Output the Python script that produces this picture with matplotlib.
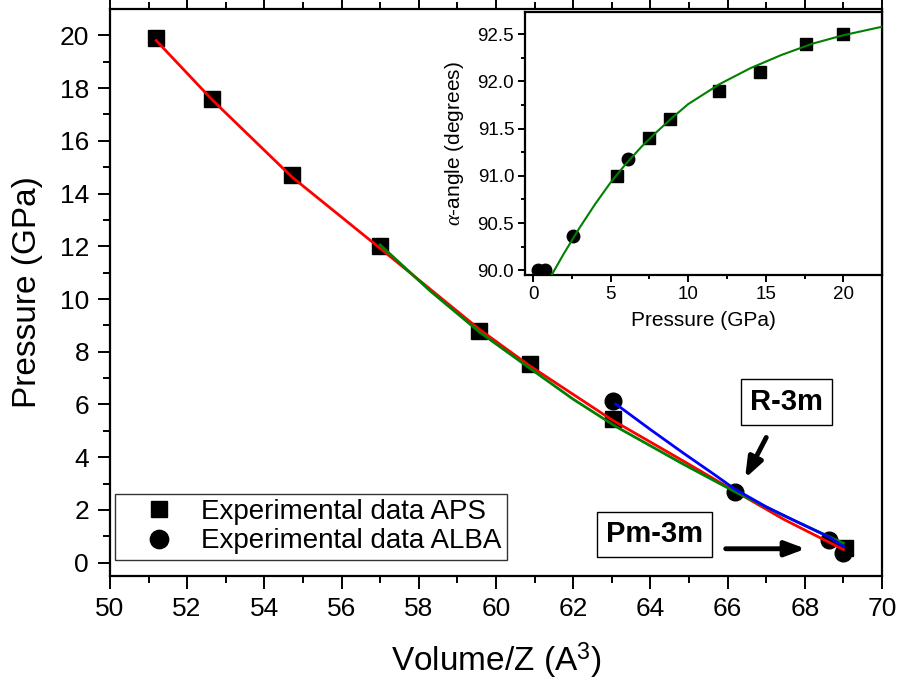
#!/usr/bin/env python3

import matplotlib
matplotlib.use("Agg")
import matplotlib.pyplot as plt
from matplotlib.ticker import FormatStrFormatter

# main panel: P-V data
aps_v = [51.2, 52.65, 54.72, 57.0, 59.57, 60.87, 63.02, 69.05]
aps_p = [19.9, 17.6, 14.7, 12.0, 8.8, 7.55, 5.45, 0.55]
alba_v = [63.02, 66.18, 68.62, 68.98]
alba_p = [6.13, 2.68, 0.86, 0.38]

# fitted curves
red_v = [51.2, 52.65, 54.72, 57.0, 59.57, 60.87, 63.0, 64.86, 66.18, 67.46, 68.62, 69.0]
red_p = [19.8, 17.55, 14.62, 11.92, 8.85, 7.47, 5.42, 3.85, 2.72, 1.64, 0.78, 0.5]
green_v = [57.0, 58.3, 59.57, 60.87, 62.0, 63.1, 64.86, 66.18, 67.46, 68.62, 69.0]
green_p = [12.05, 10.3, 8.75, 7.38, 6.2, 5.17, 3.73, 2.7, 1.78, 0.99, 0.74]
blue_v = [63.1, 64.0, 64.86, 65.6, 66.18, 67.0, 67.8, 68.62, 69.0]
blue_p = [6.02, 5.05, 4.15, 3.4, 2.8, 2.12, 1.55, 0.98, 0.62]

# inset: alpha angle vs pressure
in_sq_p = [5.4, 7.5, 8.8, 12.0, 14.6, 17.6, 19.95]
in_sq_a = [91.0, 91.4, 91.6, 91.9, 92.1, 92.4, 92.5]
in_ci_p = [0.32, 0.77, 2.58, 6.1]
in_ci_a = [90.0, 90.0, 90.36, 91.18]
fit_p = [1.2, 2.0, 3.0, 4.0, 5.0, 6.0, 7.0, 8.0, 9.0, 10.0, 12.0, 14.0, 16.0, 18.0, 20.0, 22.5]
fit_a = [89.95, 90.18, 90.45, 90.7, 90.93, 91.13, 91.31, 91.47, 91.62, 91.76,
         91.97, 92.14, 92.28, 92.4, 92.49, 92.58]

plt.rcParams["font.family"] = ["Liberation Sans", "DejaVu Sans"]
plt.rcParams["mathtext.fontset"] = "custom"
plt.rcParams["mathtext.rm"] = "Liberation Sans"
plt.rcParams["mathtext.it"] = "Liberation Serif:italic"


def style_axis(ax, size, major, minor, pad):
    for s in ax.spines.values():
        s.set_linewidth(1.6)
    ax.tick_params(which="both", direction="out", width=1.4, labelsize=size,
                   pad=pad, right=False, labelright=False)
    ax.tick_params(which="major", length=major)
    ax.tick_params(which="minor", length=minor)


def main():
    fig = plt.figure(figsize=(9.01, 6.84), dpi=100)
    ax = fig.add_axes([0.122, 0.158, 0.857, 0.829])

    ax.plot(red_v, red_p, color="red", lw=2, zorder=3)
    ax.plot(green_v, green_p, color="green", lw=2, zorder=3)
    ax.plot(blue_v, blue_p, color="blue", lw=2, zorder=3)
    ax.plot(aps_v, aps_p, "s", color="black", ms=11, zorder=2,
            label="Experimental data APS")
    ax.plot(alba_v, alba_p, "o", color="black", ms=12, zorder=2,
            label="Experimental data ALBA")

    ax.set_xlim(50, 70)
    ax.set_ylim(-0.5, 21)
    ax.set_xticks(range(50, 71, 2))
    ax.set_xticks(range(51, 70, 2), minor=True)
    ax.set_yticks(range(0, 21, 2))
    ax.set_yticks(range(1, 21, 2), minor=True)
    style_axis(ax, 19, 9, 5, 6)
    ax.tick_params(which="both", top=True, labeltop=False)
    ax.set_xlabel("Volume/Z (A$^3$)", fontsize=24)
    ax.set_ylabel("Pressure (GPa)", fontsize=24)
    ax.xaxis.set_label_coords(0.5, -0.115)
    ax.yaxis.set_label_coords(-0.087, 0.5)

    leg = ax.legend(loc="lower left", bbox_to_anchor=(0.0065, 0.028),
                    borderaxespad=0, fontsize=20, frameon=True, fancybox=False,
                    edgecolor="black", handlelength=2.8, handletextpad=0.1,
                    borderpad=0.2, labelspacing=0.12, markerscale=1.1)
    leg.get_frame().set_linewidth(1.0)

    box = dict(boxstyle="square,pad=0.3", fc="white", ec="black", lw=1)
    ax.text(67.52, 6.1, "R-3m", fontsize=21, fontweight="bold",
            ha="center", va="center", bbox=box)
    ax.text(64.11, 1.08, "Pm-3m", fontsize=21, fontweight="bold",
            ha="center", va="center", bbox=box)
    arrow = dict(arrowstyle="-|>,head_length=1.2,head_width=0.45",
                 color="black", lw=3.5, shrinkA=0, shrinkB=0)
    ax.annotate("", xy=(66.45, 3.2), xytext=(67.0, 4.75), arrowprops=arrow)
    ax.annotate("", xy=(68.02, 0.53), xytext=(65.95, 0.53), arrowprops=arrow)

    ins = fig.add_axes([0.583, 0.598, 0.396, 0.385])
    ins.plot(fit_p, fit_a, color="green", lw=1.5, zorder=3)
    ins.plot(in_sq_p, in_sq_a, "s", color="black", ms=8, zorder=2)
    ins.plot(in_ci_p, in_ci_a, "o", color="black", ms=9, zorder=2)
    ins.set_xlim(-0.5, 22.5)
    ins.set_ylim(89.95, 92.74)
    ins.set_xticks(range(0, 21, 5))
    ins.set_xticks([2.5, 7.5, 12.5, 17.5, 22.5], minor=True)
    ins.set_yticks([90.0, 90.5, 91.0, 91.5, 92.0, 92.5])
    ins.set_yticks([90.25, 90.75, 91.25, 91.75, 92.25], minor=True)
    ins.yaxis.set_major_formatter(FormatStrFormatter("%.1f"))
    style_axis(ins, 13.5, 5, 3, 3)
    ins.set_xlabel("Pressure (GPa)", fontsize=15)
    ins.set_ylabel(r"$\alpha$-angle (degrees)", fontsize=15)
    ins.xaxis.set_label_coords(0.5, -0.135)
    ins.yaxis.set_label_coords(-0.165, 0.5)

    fig.savefig("out.png", dpi=100)


if __name__ == "__main__":
    main()
